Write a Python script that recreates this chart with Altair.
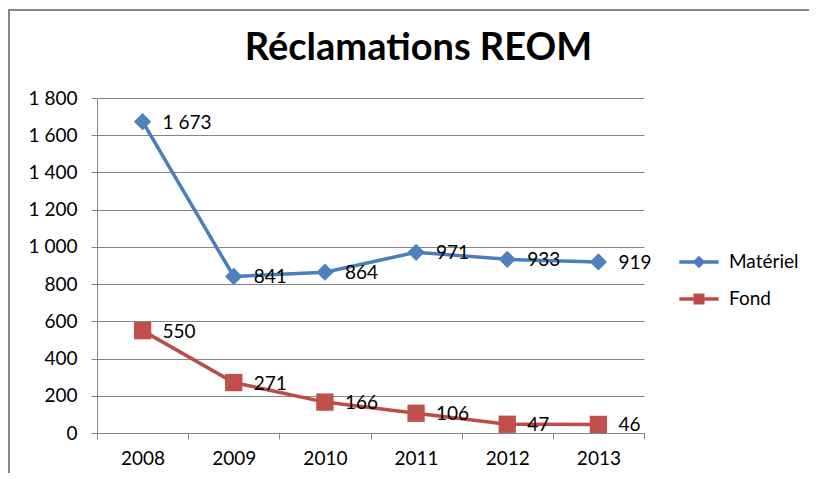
import altair as alt
import pandas as pd

years = ["2008", "2009", "2010", "2011", "2012", "2013"]
materiel = [1673, 841, 864, 971, 933, 919]
fond = [550, 271, 166, 106, 47, 46]
series_names = ["Matériel", "Fond"]
line_colors = ["#4A7EBB", "#BE4B48"]
marker_colors = ["#4F81BD", "#C0504D"]
marker_shapes = ["diamond", "square"]

rows = []
for name, vals in zip(series_names, [materiel, fond]):
    for y, v in zip(years, vals):
        rows.append({"year": y, "value": v, "series": name,
                     "label": f"{v:,}".replace(",", " ")})
df = pd.DataFrame(rows)

FONT = "Lato"

x_enc = alt.X("year:O", scale=alt.Scale(paddingInner=0, paddingOuter=0),
              axis=alt.Axis(title=None, tickBand="extent", labelAngle=0, grid=False,
                            domainColor="#868686", tickColor="#868686", tickSize=6,
                            labelFontSize=19, labelFont=FONT, labelColor="#000000",
                            labelPadding=10, labelOverlap=False))
y_enc = alt.Y("value:Q", scale=alt.Scale(domain=[0, 1800], nice=False),
              axis=alt.Axis(title=None, values=list(range(0, 1801, 200)), tickCount=30,
                            gridColor="#868686", domainColor="#868686", tickColor="#868686",
                            tickSize=6, labelFontSize=19, labelFont=FONT, labelColor="#000000",
                            labelPadding=14, labelOverlap=False,
                            labelExpr="replace(format(datum.value, ','), ',', ' ')"))

base = alt.Chart(df)

layers = []
for name, lc in zip(series_names, line_colors):
    layers.append(base.transform_filter(alt.datum.series == name)
                  .mark_line(strokeWidth=3.5, color=lc)
                  .encode(x=x_enc, y=y_enc))
for name, mc, shp in zip(series_names, marker_colors, marker_shapes):
    layers.append(base.transform_filter(alt.datum.series == name)
                  .mark_point(filled=True, opacity=1, size=300, color=mc, shape=shp)
                  .encode(x=x_enc, y=y_enc))

labels = base.mark_text(align="left", baseline="middle", dx=20, dy=1, fontSize=19,
                        font=FONT, color="#000000").encode(
    x=x_enc, y=y_enc, text="label:N")
layers.append(labels)

leg_diamond = "M-1.64,-0.14H1.64V0.14H-1.64Z M0,-0.53L0.53,0L0,0.53L-0.53,0Z"
leg_square = "M-1.64,-0.14H1.64V0.14H-1.64Z M-0.46,-0.46H0.46V0.46H-0.46Z"

leg_def = alt.Legend(title=None, orient="none", legendX=590, legendY=152,
                     symbolOpacity=1, symbolSize=576, symbolStrokeWidth=0,
                     labelFontSize=19, labelFont=FONT, labelColor="#000000",
                     labelOffset=18, rowPadding=15, padding=0)

legend_layer = base.transform_filter("datum.value < 0").mark_point(
    filled=True, opacity=1, size=576).encode(
    x=x_enc, y=y_enc,
    color=alt.Color("series:N", scale=alt.Scale(domain=series_names, range=line_colors),
                    legend=leg_def),
    shape=alt.Shape("series:N", scale=alt.Scale(domain=series_names, range=[leg_diamond, leg_square]),
                    legend=leg_def),
)
layers.append(legend_layer)

frame = alt.Chart(pd.DataFrame({"a": [0]})).mark_rect(
    fill=None, stroke="#868686", strokeWidth=2, clip=False).encode(
    x=alt.value(-88), x2=alt.value(720), y=alt.value(-88), y2=alt.value(420))

chart = alt.layer(frame, *layers).properties(
    width=547, height=335,
    title=alt.TitleParams("Réclamations REOM", font=FONT, fontSize=38, fontWeight="bold",
                          color="#000000", anchor="middle", dx=48, offset=-89,
                          baseline="alphabetic"),
    autosize=alt.AutoSizeParams(type="none"),
    padding={"left": 89, "top": 90, "right": 165, "bottom": 40},
).configure_view(stroke=None)

chart.save("out.html", embed_options={"renderer": "svg", "actions": False})
